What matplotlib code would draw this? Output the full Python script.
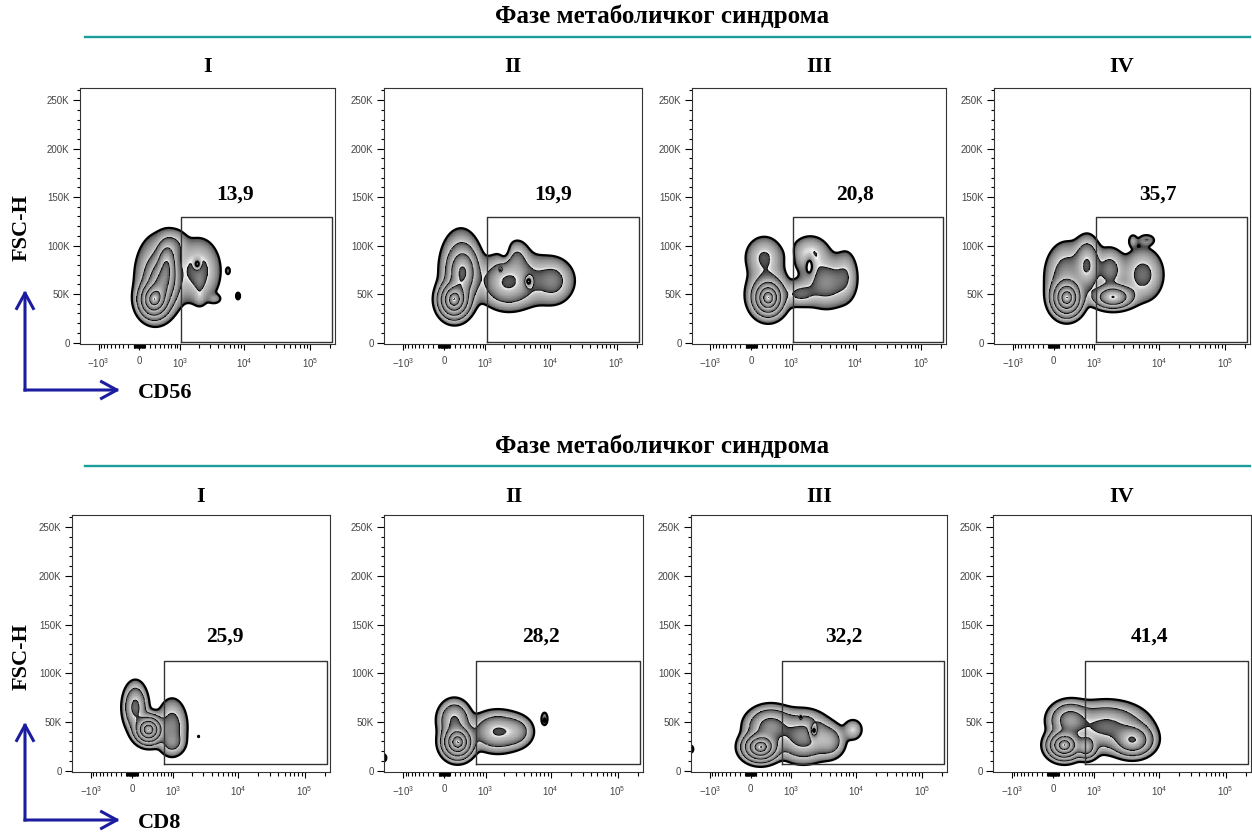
import numpy as np
import matplotlib
matplotlib.use("Agg")
import matplotlib.pyplot as plt
from matplotlib.patches import FancyArrowPatch
from matplotlib.lines import Line2D

plt.rcParams["font.family"] = ["Liberation Sans", "DejaVu Sans"]
plt.rcParams["mathtext.fontset"] = "custom"
plt.rcParams["mathtext.rm"] = "Liberation Sans"
plt.rcParams["mathtext.default"] = "rm"

# ---------------------------------------------------------------- data
phases = ["I", "II", "III", "IV"]
heading = "Фазе метаболичког синдрома"
markers = ["CD56", "CD8"]
y_param = "FSC-H"

cd56_gate_pct = [13.9, 19.9, 20.8, 35.7]
cd8_gate_pct = [25.9, 28.2, 32.2, 41.4]

# gates: marker low/high, FSC-H low/high
cd56_gate = [1050, 215000, 1000, 129000]
cd8_gate = [680, 215000, 6500, 113000]

# cell populations: (marker intensity, FSC-H [K], spread [decades], spread [K], weight)
cd56_I = [(270, 44, 0.11, 9, 1.0), (574, 82, 0.08, 12, 0.4), (456, 62, 0.12, 12, 0.5),
          (381, 68, 0.2, 24, 0.1), (833, 100, 0.1, 9, 0.06), (1995, 74, 0.18, 18, 0.1),
          (2090, 62, 0.05, 6, 0.03), (2090, 47, 0.05, 5, 0.03), (3590, 45, 0.06, 3, 0.03),
          (5695, 74, 0.025, 3, 0.025), (8060, 48, 0.03, 3.5, 0.03)]
cd56_II = [(180, 44, 0.11, 9, 1.0), (352, 72, 0.11, 13, 0.45), (310, 75, 0.17, 22, 0.1),
           (2244, 62, 0.2, 13, 0.2), (4735, 65, 0.35, 15, 0.06), (3190, 88, 0.1, 10, 0.06),
           (11380, 63, 0.15, 12, 0.07)]
cd56_III = [(324, 46, 0.1, 8, 1.0), (324, 50, 0.17, 14, 0.15), (243, 88, 0.16, 12, 0.08),
            (1995, 92, 0.16, 10, 0.08), (3590, 62, 0.2, 14, 0.12), (1387, 50, 0.14, 7, 0.08),
            (7180, 70, 0.1, 15, 0.05)]
cd56_IV = [(243, 46, 0.11, 9, 1.0), (1995, 47, 0.15, 6, 0.5), (748, 80, 0.1, 14, 0.22),
           (243, 68, 0.17, 18, 0.12), (5695, 70, 0.17, 15, 0.09), (1770, 75, 0.12, 12, 0.1),
           (4030, 105, 0.04, 4, 0.035), (6500, 106, 0.08, 3.5, 0.035)]
cd8_I = [(310, 42, 0.1, 7, 1.0), (59, 65, 0.09, 12, 0.25), (955, 45, 0.12, 15, 0.1),
         (955, 28, 0.1, 6, 0.06), (2525, 35, 0.01, 1, 0.02)]
cd8_II = [(243, 29, 0.11, 8, 1.0), (180, 52, 0.12, 10, 0.22), (1566, 40, 0.2, 10, 0.22),
          (3190, 40, 0.12, 8, 0.08), (8060, 53, 0.035, 5, 0.035), (-2000, 13, 0.03, 3, 0.03)]
cd8_III = [(180, 24, 0.13, 7, 1.0), (381, 45, 0.18, 10, 0.3), (1566, 35, 0.2, 12, 0.3),
           (4030, 30, 0.12, 9, 0.12), (9050, 42, 0.08, 6, 0.06), (-2000, 22, 0.03, 3, 0.03)]
cd8_IV = [(205, 26, 0.12, 7, 1.0), (727, 24, 0.08, 6, 0.35), (4030, 31, 0.15, 8, 0.45),
          (1566, 45, 0.3, 12, 0.25), (310, 52, 0.15, 9, 0.3)]

# sparse pockets: (marker intensity, FSC-H [K], spread [decades], spread [K], depth)
cd56_I_gaps = [(1900, 81, 0.04, 4, 0.95), (8060, 48, 0.012, 1.5, 0.9)]
cd56_II_gaps = [(4735, 63, 0.05, 5, 0.95), (1770, 75, 0.02, 2, 0.9), (2040, 97, 0.06, 9, 0.9)]
cd56_III_gaps = [(1950, 79, 0.05, 8, 0.95), (955, 88, 0.04, 10, 0.9)]
cd56_IV_gaps = [(6500, 106, 0.04, 1.5, 0.6)]
cd8_I_gaps = []
cd8_II_gaps = [(8060, 52, 0.015, 2.5, 0.7)]
cd8_III_gaps = [(2296, 41, 0.05, 6, 0.95), (1423, 55, 0.015, 2, 0.9)]
cd8_IV_gaps = []

y_ticks = [0, 50000, 100000, 150000, 200000, 250000]
x_major = [-1000, 0, 1000, 10000, 100000]
x_major_labels = [r"$-10^3$", "0", r"$10^3$", r"$10^4$", r"$10^5$"]

# ---------------------------------------------------------------- scale
C_LIN = 510.0
LN10 = np.log(10.0)


def fwd(x):
    return np.arcsinh(np.asarray(x, dtype=float) / C_LIN) / LN10


def inv(u):
    return C_LIN * np.sinh(np.asarray(u, dtype=float) * LN10)


XLIM = (-2000, 240000)
YLIM = (-1500, 262500)

x_minor = ([-k * 100 for k in range(1, 10)] + [-k * 10 for k in range(1, 10)]
           + [k * 10 for k in range(1, 10)] + [k * 100 for k in range(1, 10)]
           + [k * 1000 for k in range(2, 10)] + [k * 10000 for k in range(2, 10)] + [200000])

W, H = 1252, 834
fig = plt.figure(figsize=(W / 100, H / 100), dpi=100)


def rect(l, r, t, b):
    return [l / W, 1 - b / H, (r - l) / W, (b - t) / H]


# contour levels as equally spaced "radii" of the density: r = sqrt(-2 ln(d / dmax))
R_OUT, R_STEP, NLEV = 2.9, 0.56, 5
nu, ny = 420, 420
u_edges = np.linspace(fwd(XLIM[0]), fwd(XLIM[1]), nu + 1)
yk_edges = np.linspace(YLIM[0] / 1000, YLIM[1] / 1000, ny + 1)
u_c = 0.5 * (u_edges[1:] + u_edges[:-1])
yk_c = 0.5 * (yk_edges[1:] + yk_edges[:-1])
U, YK = np.meshgrid(u_c, yk_c)


def radius(pops, gaps):
    d = np.zeros_like(U)
    for x, yk, su, sy, w in pops:
        d += w * np.exp(-0.5 * ((U - fwd(x)) / su) ** 2 - 0.5 * ((YK - yk) / sy) ** 2)
    for x, yk, su, sy, a in gaps:
        d *= 1 - a * np.exp(-0.5 * ((U - fwd(x)) / su) ** 2 - 0.5 * ((YK - yk) / sy) ** 2)
    return np.sqrt(-2 * np.log(np.clip(d / d.max(), 1e-12, 1.0)))


def zebra(frac):
    # dark at the outer edge of each band, light grey inside, white rim before the next level
    rim = np.clip((frac - 0.8) / 0.2, 0, 1) ** 2
    return 0.12 + 0.68 * np.sqrt(frac) + 0.18 * rim


serif = ["Liberation Serif", "DejaVu Serif"]


def panel(ax, pops, gaps, gate, pct, label_xf, label_y):
    ax.set_xscale("function", functions=(fwd, inv))
    ax.set_xlim(*XLIM)
    ax.set_ylim(*YLIM)
    r = radius(pops, gaps)
    z = (R_OUT - r) / R_STEP
    frac = z - np.floor(z)
    shade = np.ma.masked_where(z < 0, zebra(frac))
    ax.pcolormesh(inv(u_edges), yk_edges * 1000, shade, cmap="gray", vmin=0, vmax=1,
                  shading="flat", rasterized=True, zorder=1)
    xc = inv(u_c)
    yc = yk_c * 1000
    ax.contour(xc, yc, r, levels=[R_OUT], colors="black", linewidths=1.6, zorder=2)
    inner = sorted(R_OUT - R_STEP * k for k in range(1, NLEV))
    ax.contour(xc, yc, r, levels=inner, colors="black", linewidths=0.5, zorder=2)
    x0, x1, y0, y1 = gate
    ax.plot([x0, x0, x1, x1, x0], [y0, y1, y1, y0, y0], color="#333333", lw=1.0, zorder=3)
    ax.text(label_xf, label_y, f"{pct:.1f}".replace(".", ","),
            transform=ax.get_yaxis_transform(), ha="center", va="center",
            fontsize=15.5, fontweight="bold", family=serif, zorder=4)
    ax.set_yticks(y_ticks)
    ax.set_yticklabels(["0"] + [f"{v // 1000}K" for v in y_ticks[1:]])
    ax.set_yticks(np.arange(0, 260001, 10000), minor=True)
    ax.set_xticks(x_major)
    ax.set_xticklabels(x_major_labels)
    ax.set_xticks(x_minor, minor=True)
    ax.tick_params(which="both", direction="out", width=0.8, color="black",
                   labelsize=7, labelcolor="#444444")
    ax.tick_params(axis="y", which="major", length=5, pad=2.5)
    ax.tick_params(axis="y", which="minor", length=2.5)
    ax.tick_params(axis="x", which="major", length=4.5, pad=4)
    ax.tick_params(axis="x", which="minor", length=2.8)
    for s in ax.spines.values():
        s.set_color("#333333")
        s.set_linewidth(0.8)


rows = [
    dict(lefts=[80, 384, 692, 994], rights=[335, 642, 946, 1250], top=88, bottom=344,
         pops=[cd56_I, cd56_II, cd56_III, cd56_IV],
         gaps=[cd56_I_gaps, cd56_II_gaps, cd56_III_gaps, cd56_IV_gaps],
         gate=cd56_gate, pct=cd56_gate_pct, label_xf=[0.608, 0.655, 0.642, 0.64],
         label_y=153000, head_y=16, line_y=37, num_y=67, marker=markers[0],
         fsc_y=228, corner_y=390, tip_y=290),
    dict(lefts=[72, 384, 691, 993], rights=[330, 643, 947, 1251], top=515, bottom=772,
         pops=[cd8_I, cd8_II, cd8_III, cd8_IV],
         gaps=[cd8_I_gaps, cd8_II_gaps, cd8_III_gaps, cd8_IV_gaps],
         gate=cd8_gate, pct=cd8_gate_pct, label_xf=[0.593, 0.606, 0.598, 0.605],
         label_y=138000, head_y=446, line_y=466, num_y=497, marker=markers[1],
         fsc_y=657, corner_y=820, tip_y=722),
]

blue = "#1c1ca0"
for row in rows:
    for i in range(4):
        l, r = row["lefts"][i], row["rights"][i]
        ax = fig.add_axes(rect(l, r, row["top"], row["bottom"]))
        panel(ax, row["pops"][i], row["gaps"][i], row["gate"], row["pct"][i],
              row["label_xf"][i], row["label_y"])
        fig.text((l + r) / 2 / W, 1 - row["num_y"] / H, phases[i], ha="center", va="center",
                 fontsize=16, fontweight="bold", family=serif)
    fig.text(662 / W, 1 - row["head_y"] / H, heading, ha="center", va="center",
             fontsize=18, fontweight="bold", family=serif)
    fig.add_artist(Line2D([85 / W, 1250 / W], [1 - row["line_y"] / H] * 2,
                          color="#1a9d9b", lw=1.7))
    fig.text(22 / W, 1 - row["fsc_y"] / H, y_param, rotation=90, ha="center", va="center",
             fontsize=16, fontweight="bold", family=serif)
    cy = 1 - row["corner_y"] / H
    for tip in [(25 / W, 1 - row["tip_y"] / H), (120 / W, cy)]:
        fig.add_artist(FancyArrowPatch((25 / W, cy), tip, transform=fig.transFigure,
                                       arrowstyle="->,head_length=11,head_width=6",
                                       mutation_scale=1, color=blue, lw=2.2,
                                       shrinkA=0, shrinkB=0, capstyle="projecting"))
    fig.text(138 / W, 1 - (row["corner_y"] + 3) / H, row["marker"], ha="left", va="center",
             fontsize=16, fontweight="bold", family=serif)

fig.savefig("out.png", dpi=100)
